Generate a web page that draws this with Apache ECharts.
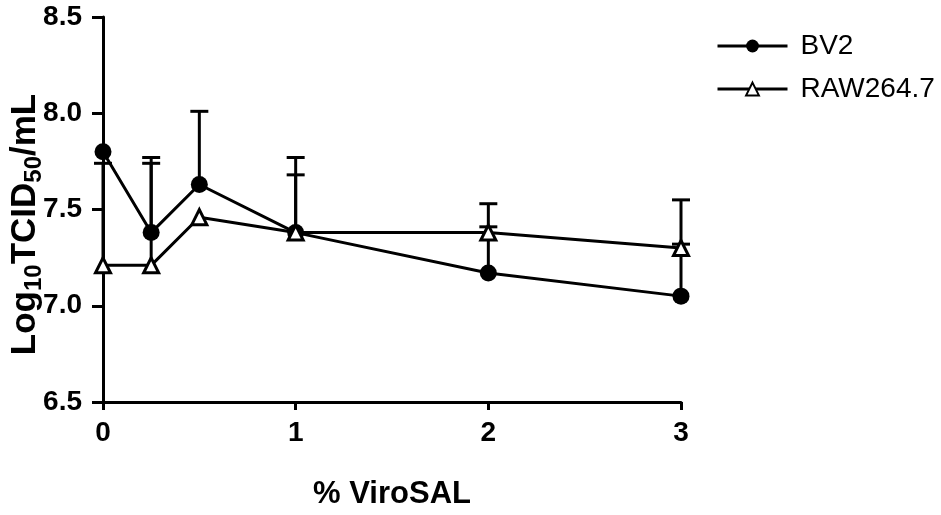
<!DOCTYPE html>
<html>
<head>
<meta charset="utf-8">
<script src="https://cdn.jsdelivr.net/npm/echarts@6/dist/echarts.min.js"></script>
<style>
  html, body { margin: 0; padding: 0; background: #fff; }
  #chart { width: 941px; height: 515px; }
</style>
</head>
<body>
<div id="chart"></div>
<script>
// % ViroSAL
const xValues = [0, 0.25, 0.5, 1, 2, 3]
// Log10 TCID50/mL
const bv2Values = [7.80, 7.38, 7.63, 7.38, 7.17, 7.05]
const rawValues = [7.21, 7.21, 7.46, 7.38, 7.38, 7.30]
// upper error (SD)
const bv2Err = [0, 0.39, 0.38, 0.39, 0.36, 0.50]
const rawErr = [0.53, 0.53, 0, 0.30, 0.03, 0.02]

const FONT = 'Liberation Sans, Arial, sans-serif'

var chartDom = document.getElementById('chart')
var myChart = echarts.init(chartDom)

function pairs (vals) {
  return xValues.map((x, i) => [x, vals[i]])
}
function errData (vals, errs) {
  return xValues.map((x, i) => [x, vals[i], vals[i] + errs[i]])
}

// vertical upper error bar with cap
function renderErr (params, api) {
  const p0 = api.coord([api.value(0), api.value(1)])
  const p1 = api.coord([api.value(0), api.value(2)])
  const half = 9
  const style = { stroke: '#000', lineWidth: 3, fill: null }
  if (api.value(2) <= api.value(1)) return
  return {
    type: 'group',
    children: [
      { type: 'line', shape: { x1: p0[0], y1: p0[1], x2: p1[0], y2: p1[1] }, style: style },
      { type: 'line', shape: { x1: p1[0] - half, y1: p1[1], x2: p1[0] + half, y2: p1[1] }, style: style }
    ]
  }
}

var option = {
  animation: false,
  grid: { left: 103, right: 260, top: 17, bottom: 113, outerBoundsMode: 'none' },
  legend: {
    left: 716,
    top: 32,
    padding: 0,
    orient: 'vertical',
    itemWidth: 70,
    itemHeight: 16,
    itemGap: 15,
    data: ['BV2', 'RAW264.7'],
    lineStyle: { width: 3, color: '#000' },
    textStyle: { fontFamily: FONT, fontSize: 28, color: '#000', padding: [0, 0, 0, 8] }
  },
  xAxis: {
    type: 'value',
    min: 0,
    max: 3,
    interval: 1,
    name: '% ViroSAL',
    nameLocation: 'middle',
    nameGap: 77,
    nameMoveOverlap: false,
    nameTextStyle: { fontFamily: FONT, fontSize: 31, fontWeight: 'bold', color: '#000' },
    axisLine: { show: true, lineStyle: { color: '#000', width: 3 } },
    axisTick: { show: true, length: 8, lineStyle: { color: '#000', width: 3 } },
    axisLabel: { fontFamily: FONT, fontSize: 28, fontWeight: 'bold', color: '#000', margin: 17 },
    splitLine: { show: false }
  },
  yAxis: {
    type: 'value',
    min: 6.5,
    max: 8.5,
    interval: 0.5,
    name: '{n|Log}{s|10}{n|TCID}{s|50}{n|/mL}',
    nameLocation: 'middle',
    nameGap: 57,
    nameMoveOverlap: false,
    nameRotate: 90,
    nameTextStyle: {
      color: '#000',
      padding: [0, 30, 0, 0],
      rich: {
        n: { fontFamily: FONT, fontSize: 35, fontWeight: 'bold', color: '#000' },
        s: { fontFamily: FONT, fontSize: 24, fontWeight: 'bold', color: '#000', padding: [18, 0, 0, 0] }
      }
    },
    axisLine: { show: true, onZero: false, lineStyle: { color: '#000', width: 3 } },
    axisTick: { show: true, length: 11, lineStyle: { color: '#000', width: 3 } },
    axisLabel: {
      fontFamily: FONT, fontSize: 28, fontWeight: 'bold', color: '#000', margin: 21,
      formatter: v => v.toFixed(1)
    },
    splitLine: { show: false }
  },
  series: [
    {
      name: 'BV2',
      type: 'line',
      data: pairs(bv2Values),
      symbol: 'circle',
      symbolSize: 17,
      showAllSymbol: true,
      lineStyle: { color: '#000', width: 3 },
      itemStyle: { color: '#000' },
      z: 3
    },
    {
      name: 'RAW264.7',
      type: 'line',
      data: pairs(rawValues),
      symbol: 'triangle',
      symbolSize: 15,
      showAllSymbol: true,
      lineStyle: { color: '#000', width: 3 },
      itemStyle: { color: '#fff', borderColor: '#000', borderWidth: 3 },
      z: 3
    },
    {
      name: 'BV2 err',
      type: 'custom',
      renderItem: renderErr,
      data: errData(bv2Values, bv2Err),
      encode: { x: 0, y: [1, 2] },
      z: 2
    },
    {
      name: 'RAW err',
      type: 'custom',
      renderItem: renderErr,
      data: errData(rawValues, rawErr),
      encode: { x: 0, y: [1, 2] },
      z: 2
    }
  ]
}

option && myChart.setOption(option)
</script>
</body>
</html>
